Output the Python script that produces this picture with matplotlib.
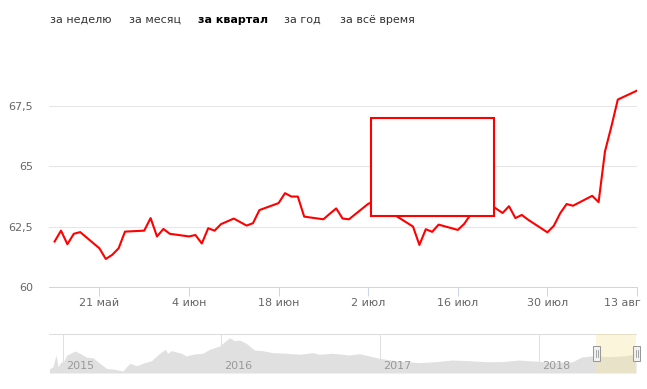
import matplotlib.pyplot as plt
from matplotlib.patches import Rectangle
from matplotlib.lines import Line2D
import matplotlib.transforms as mtransforms
import pandas as pd

plt.rcParams['font.family'] = ['DejaVu Sans']

W, H = 647, 389

menu_items = ['за неделю', 'за месяц', 'за квартал', 'за год', 'за всё время']
menu_active = 'за квартал'

dates = ['2018-05-14', '2018-05-15', '2018-05-16', '2018-05-17', '2018-05-18',
         '2018-05-21', '2018-05-22', '2018-05-23', '2018-05-24', '2018-05-25',
         '2018-05-28', '2018-05-29', '2018-05-30', '2018-05-31', '2018-06-01',
         '2018-06-04', '2018-06-05', '2018-06-06', '2018-06-07', '2018-06-08',
         '2018-06-09', '2018-06-11', '2018-06-13', '2018-06-14', '2018-06-15',
         '2018-06-18', '2018-06-19', '2018-06-20', '2018-06-21', '2018-06-22',
         '2018-06-25', '2018-06-26', '2018-06-27', '2018-06-28', '2018-06-29',
         '2018-07-02', '2018-07-03', '2018-07-04', '2018-07-05', '2018-07-06',
         '2018-07-09', '2018-07-10', '2018-07-11', '2018-07-12', '2018-07-13',
         '2018-07-16', '2018-07-17', '2018-07-18', '2018-07-19', '2018-07-20',
         '2018-07-23', '2018-07-24', '2018-07-25', '2018-07-26', '2018-07-27',
         '2018-07-30', '2018-07-31', '2018-08-01', '2018-08-02', '2018-08-03',
         '2018-08-06', '2018-08-07', '2018-08-08', '2018-08-09', '2018-08-10',
         '2018-08-13']
rates = [61.88, 62.33, 61.77, 62.20, 62.27,
         61.60, 61.16, 61.33, 61.60, 62.29,
         62.33, 62.85, 62.09, 62.40, 62.20,
         62.09, 62.15, 61.80, 62.43, 62.33,
         62.60, 62.83, 62.54, 62.64, 63.18,
         63.47, 63.88, 63.74, 63.74, 62.91,
         62.80, 63.03, 63.25, 62.83, 62.80,
         63.44, 63.55, 63.35, 63.15, 63.00,
         62.50, 61.74, 62.39, 62.28, 62.58,
         62.36, 62.61, 63.00, 63.35, 63.60,
         63.06, 63.34, 62.85, 62.98, 62.78,
         62.26, 62.53, 63.05, 63.43, 63.36,
         63.77, 63.51, 65.61, 66.64, 67.75,
         68.12]

tick_dates = ['2018-05-21', '2018-06-04', '2018-06-18', '2018-07-02',
              '2018-07-16', '2018-07-30', '2018-08-13']
tick_labels = ['21 май', '4 июн', '18 июн', '2 июл', '16 июл', '30 июл', '13 авг']
y_ticks = [60, 62.5, 65, 67.5]
y_labels = ['60', '62,5', '65', '67,5']

nav_dates = ['2014-12-01', '2014-12-09', '2014-12-16', '2014-12-21', '2014-12-28',
             '2015-01-01', '2015-01-10', '2015-01-29', '2015-02-09', '2015-02-25',
             '2015-03-11', '2015-03-27', '2015-04-11', '2015-04-30', '2015-05-19',
             '2015-06-04', '2015-06-20', '2015-07-04', '2015-07-24', '2015-08-12',
             '2015-08-25', '2015-08-30', '2015-09-08', '2015-10-01', '2015-10-12',
             '2015-10-31', '2015-11-19', '2015-12-05', '2015-12-28', '2016-01-20',
             '2016-01-31', '2016-02-12', '2016-02-27', '2016-03-17', '2016-04-05',
             '2016-04-28', '2016-05-30', '2016-06-29', '2016-07-29', '2016-08-14',
             '2016-09-13', '2016-10-22', '2016-11-14', '2016-12-07', '2016-12-30',
             '2017-02-06', '2017-03-31', '2017-05-09', '2017-06-15', '2017-07-24',
             '2017-08-31', '2017-10-08', '2017-11-16', '2017-12-30', '2018-01-31',
             '2018-03-18', '2018-04-10', '2018-05-03', '2018-06-11', '2018-07-19',
             '2018-08-13']
nav_rates = [48.9, 51.4, 64.4, 51.4, 57.0,
             55.9, 64.4, 68.8, 66.3, 61.8,
             61.4, 55.2, 49.6, 48.5, 46.6,
             55.2, 52.5, 55.2, 58.1, 66.3,
             70.7, 66.3, 69.2, 66.3, 63.3,
             65.5, 66.3, 70.7, 74.4, 83.6,
             80.3, 81.0, 77.4, 69.9, 69.2,
             67.0, 66.3, 65.2, 67.0, 65.2,
             66.3, 64.4, 65.8, 63.3, 60.7,
             58.1, 55.9, 57.0, 58.8, 58.1,
             57.0, 57.0, 58.8, 57.4, 56.3,
             56.6, 62.2, 63.3, 62.5, 63.6,
             65.5]
nav_years = ['2015', '2016', '2017', '2018']


def px(x, y, w, h):
    # pixel box (top-left origin) -> figure fraction rect
    return [x / W, 1 - (y + h) / H, w / W, h / H]


fig = plt.figure(figsize=(W / 100, H / 100), dpi=100)

# range selector buttons
menu_x = [50, 129, 198, 284, 340]
for x, item in zip(menu_x, menu_items):
    bold = item == menu_active
    fig.text(x / W, 1 - 20 / H, item, fontsize=8, va='center', ha='left',
             color='black' if bold else '#333333',
             fontweight='bold' if bold else 'normal')

# main chart
ax = fig.add_axes(px(49, 50, 588, 237))
ax.plot(pd.to_datetime(dates), rates, color='#ff0000', lw=1.5,
        solid_joinstyle='round', zorder=3)
ax.set_xlim(pd.Timestamp('2018-05-13 03:00'), pd.Timestamp('2018-08-13'))
ax.set_ylim(60, 69.8)
ax.set_yticks(y_ticks, y_labels)
ax.set_xticks(pd.to_datetime(tick_dates), tick_labels)
ax.grid(axis='y', color='#e6e6e6', lw=0.75)
ax.set_axisbelow(True)
for s in ['top', 'right', 'left']:
    ax.spines[s].set_visible(False)
ax.spines['bottom'].set_color('#ccd6eb')
ax.spines['bottom'].set_linewidth(0.75)
ax.tick_params(axis='y', length=0, pad=11.5, labelsize=8, labelcolor='#666666')
ax.tick_params(axis='x', length=6.5, width=0.75, color='#ccd6eb', pad=1.5,
               labelsize=8, labelcolor='#666666')

# keep last date label inside the chart, like the original
last = ax.get_xticklabels()[-1]
last.set_horizontalalignment('right')
last.set_transform(last.get_transform() +
                   mtransforms.ScaledTranslation(4 / 100, 0, fig.dpi_scale_trans))

# empty tooltip box
ax.add_patch(Rectangle(((371 - 49) / 588, (287 - 216) / 237),
                       (494 - 371) / 588, (216 - 118) / 237,
                       transform=ax.transAxes, facecolor='white',
                       edgecolor='#ff0000', lw=1.5, zorder=5))

# navigator
nav = fig.add_axes(px(49, 334, 587, 39))
nav_lo, nav_hi = 44.4, 87.7
nav.fill_between(pd.to_datetime(nav_dates), nav_rates, nav_lo,
                 color='#e0e0e0', lw=0, zorder=2)
nav.set_xlim(pd.Timestamp('2014-11-30'), pd.Timestamp('2018-08-13'))
nav.set_ylim(nav_lo, nav_hi)
nav.set_xticks([])
nav.set_yticks([])
for s in ['bottom', 'right', 'left']:
    nav.spines[s].set_visible(False)
nav.spines['top'].set_color('#dddddd')
nav.spines['top'].set_linewidth(0.75)

blend = mtransforms.blended_transform_factory(nav.transData, nav.transAxes)
for yr in nav_years:
    d = pd.Timestamp(yr + '-01-01')
    nav.axvline(d, color='#e0e0e0', lw=0.75, zorder=1)
    nav.text(d + pd.Timedelta(days=7), 0.18, yr, transform=blend,
             fontsize=8, color='#999999', ha='left', va='center', zorder=4)

nav.axvspan(pd.Timestamp('2018-05-13'), pd.Timestamp('2018-08-13'),
            color='#f5e6a8', alpha=0.4, lw=0, zorder=3)

# navigator handles
for hx in [596.7, 636.7]:
    fig.add_artist(Rectangle(((hx - 3.7) / W, 1 - 361 / H), 7.4 / W, 15 / H,
                             transform=fig.transFigure, facecolor='#f2f2f2',
                             edgecolor='#999999', lw=0.75, zorder=6))
    for dx in [-1, 1]:
        fig.add_artist(Line2D([(hx + dx) / W] * 2, [1 - 357 / H, 1 - 350 / H],
                              transform=fig.transFigure, color='#999999',
                              lw=0.6, zorder=7))

fig.savefig('out.png', dpi=100)
